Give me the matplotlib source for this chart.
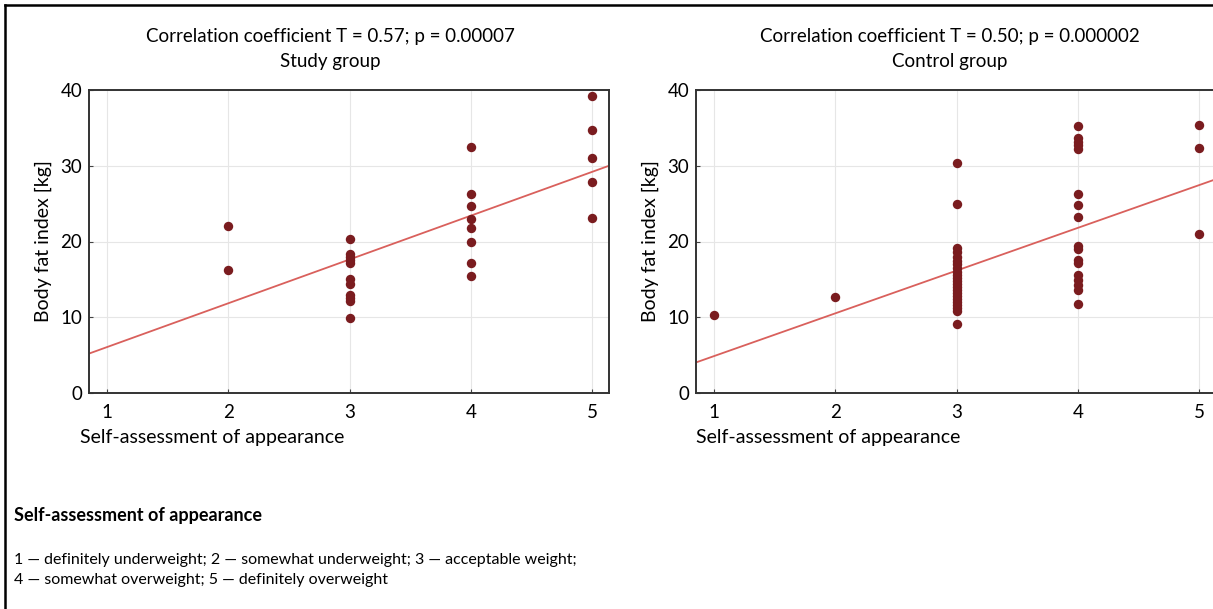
import numpy as np
import matplotlib.pyplot as plt
from matplotlib.lines import Line2D

plt.rcParams['font.family'] = ['Lato', 'DejaVu Sans']

# study group (self-assessment score, body fat index)
study_x = [2, 2,
           3, 3, 3, 3, 3, 3, 3, 3, 3, 3, 3,
           4, 4, 4, 4, 4, 4, 4, 4,
           5, 5, 5, 5, 5]
study_y = [22.0, 16.3,
           20.3, 18.4, 18.0, 17.6, 17.2, 15.0, 14.4, 13.0, 12.6, 12.1, 9.9,
           32.5, 26.3, 24.7, 23.0, 21.8, 20.0, 17.1, 15.4,
           39.2, 34.7, 31.0, 27.9, 23.1]

# control group
control_x = [1, 2] + [3] * 23 + [4] * 17 + [5] * 3
control_y = [10.3, 12.7,
             30.4, 24.9, 19.2, 18.6, 18.0, 17.4, 17.0, 16.5, 16.0, 15.6, 15.2,
             14.8, 14.4, 14.0, 13.6, 13.2, 12.8, 12.4, 12.0, 11.6, 11.2, 10.8, 9.1,
             35.2, 33.6, 33.2, 32.7, 32.2, 26.3, 24.8, 23.3, 19.4, 19.0, 17.6,
             17.1, 15.6, 14.9, 14.3, 13.6, 11.8,
             35.4, 32.3, 21.0]

# regression lines (slope, intercept) as drawn in the figure
fit_study = (5.78, 0.29)
fit_control = (5.64, -0.76)

titles = ["Correlation coefficient T = 0.57; p = 0.00007\nStudy group",
          "Correlation coefficient T = 0.50; p = 0.000002\nControl group"]

W, H = 1213, 609
fig = plt.figure(figsize=(W / 100, H / 100), dpi=100)

dot_col = '#7a1c1f'
line_col = '#d9605c'

panels = [(89, study_x, study_y, fit_study, titles[0], 330),
          (696, control_x, control_y, fit_control, titles[1], 950)]

for left_px, xs, ys, fit, title, tx in panels:
    ax = fig.add_axes([left_px / W, (H - 393) / H, 520 / W, 303 / H])
    ax.set_xlim(0.85, 5.14)
    ax.set_ylim(0, 40)
    ax.grid(True, color='#e6e6e6', lw=0.8)
    ax.set_axisbelow(True)
    xx = np.array([0.85, 5.14])
    ax.plot(xx, fit[0] * xx + fit[1], color=line_col, lw=1.3, zorder=2)
    ax.scatter(xs, ys, s=46, color=dot_col, zorder=3, linewidths=0)
    ax.set_xticks([1, 2, 3, 4, 5])
    ax.set_yticks([0, 10, 20, 30, 40])
    ax.tick_params(direction='in', length=3, labelsize=13.5, color='#444444', pad=8)
    ax.tick_params(axis='y', pad=5)
    for s in ax.spines.values():
        s.set_color('#333333')
        s.set_linewidth(1.4)
    ax.set_ylabel('Body fat index [kg]', fontsize=14, labelpad=6)
    fig.text((left_px - 9) / W if left_px < 300 else left_px / W, 1 - 437 / H,
             'Self-assessment of appearance', fontsize=14, va='center', ha='left')
    fig.text(tx / W, 1 - 49 / H, title, fontsize=13.5, ha='center', va='center',
             linespacing=1.6)

fig.text(14 / W, 1 - 516 / H, 'Self-assessment of appearance', fontsize=13,
         fontweight='bold', va='center')
fig.text(14 / W, 1 - 570 / H,
         '1 — definitely underweight; 2 — somewhat underweight; 3 — acceptable weight;\n'
         '4 — somewhat overweight; 5 — definitely overweight',
         fontsize=11.5, va='center', linespacing=1.5)

# frame on the left and top edges
fig.add_artist(Line2D([5 / W, 5 / W], [0, 1 - 5 / H], color='black', lw=1.8))
fig.add_artist(Line2D([5 / W, 1], [1 - 5 / H, 1 - 5 / H], color='black', lw=1.8))

fig.savefig('out.png', dpi=100)
